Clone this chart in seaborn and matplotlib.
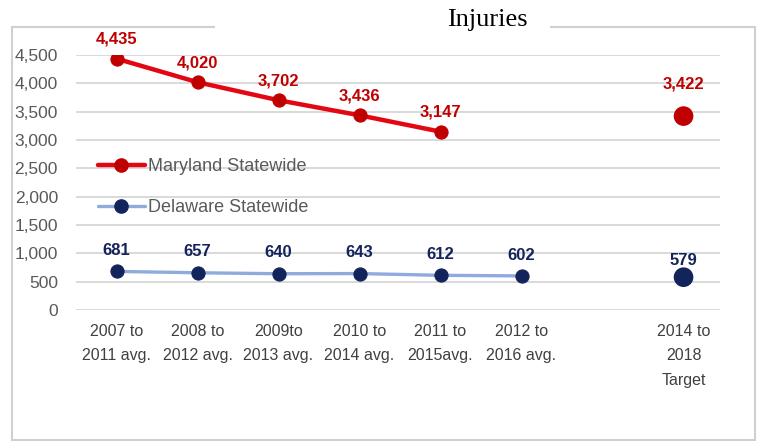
import pandas as pd
import matplotlib.pyplot as plt
import seaborn as sns
from matplotlib.lines import Line2D
from matplotlib.patches import Rectangle

# data
categories = ["2007 to\n2011 avg.", "2008 to\n2012 avg.", "2009to\n2013 avg.",
              "2010 to\n2014 avg.", "2011 to\n2015avg.", "2012 to\n2016 avg.",
              "2014 to\n2018\nTarget"]
cat_pos = [0, 1, 2, 3, 4, 5, 7]
maryland = [4435, 4020, 3702, 3436, 3147]
delaware = [681, 657, 640, 643, 612, 602]
md_target = 3422
de_target = 579

red_line = "#E30613"
red_dot = "#C00000"
blue_line = "#8FAADC"
navy = "#13235B"
gray = "#595959"

sns.set_style("white")
plt.rcParams["font.family"] = ["Liberation Sans", "DejaVu Sans"]

fig = plt.figure(figsize=(7.6, 4.41), dpi=100)
ax = fig.add_axes([76 / 760, 1 - 310 / 441, 644 / 760, 255 / 441])

df_md = pd.DataFrame({"x": cat_pos[:len(maryland)], "y": maryland})
df_de = pd.DataFrame({"x": cat_pos[:len(delaware)], "y": delaware})
df_t = pd.DataFrame({"x": [cat_pos[-1], cat_pos[-1]], "y": [md_target, de_target],
                     "s": ["md", "de"]})

sns.lineplot(data=df_md, x="x", y="y", ax=ax, color=red_line, lw=3.2, marker="o",
             markersize=9.5, markerfacecolor=red_dot, markeredgecolor=red_dot, zorder=3)
sns.lineplot(data=df_de, x="x", y="y", ax=ax, color=blue_line, lw=2.4, marker="o",
             markersize=9.5, markerfacecolor=navy, markeredgecolor=navy, zorder=3)
sns.scatterplot(data=df_t, x="x", y="y", hue="s", palette={"md": red_dot, "de": navy},
                s=200, ax=ax, legend=False, zorder=4, edgecolor="none")

# data labels
for x, v in zip(df_md["x"], maryland):
    ax.annotate(f"{v:,}", (x, v), xytext=(0, 14), textcoords="offset points",
                ha="center", va="center", color=red_dot, fontsize=12, fontweight="bold",
                annotation_clip=False)
for x, v in zip(df_de["x"], delaware):
    ax.annotate(f"{v:,}", (x, v), xytext=(0, 15), textcoords="offset points",
                ha="center", va="center", color=navy, fontsize=12, fontweight="bold")
ax.annotate(f"{md_target:,}", (cat_pos[-1], md_target), xytext=(0, 23),
            textcoords="offset points", ha="center", va="center", color=red_dot,
            fontsize=12, fontweight="bold")
ax.annotate(f"{de_target:,}", (cat_pos[-1], de_target), xytext=(0, 12),
            textcoords="offset points", ha="center", va="center", color=navy,
            fontsize=12, fontweight="bold")

ax.set_xlim(-0.5, 7.45)
ax.set_ylim(0, 4500)
ax.set_yticks(range(0, 4501, 500))
ax.set_yticklabels([f"{t:,}" for t in range(0, 4501, 500)], color=gray, fontsize=12.5)
ax.set_xticks(cat_pos)
ax.set_xticklabels(categories, color="#404040", fontsize=11.5, linespacing=1.8, va="top")
ax.tick_params(axis="x", length=0, pad=10)
ax.tick_params(axis="y", length=0, pad=13)
ax.set_xlabel("")
ax.set_ylabel("")
ax.grid(axis="y", color="#D9D9D9", lw=1.4)
ax.set_axisbelow(True)
for sp in ax.spines.values():
    sp.set_visible(False)

handles = [
    Line2D([], [], color=red_line, lw=3.2, marker="o", markersize=9.5,
           markerfacecolor=red_dot, markeredgecolor=red_dot),
    Line2D([], [], color=blue_line, lw=2.4, marker="o", markersize=9.5,
           markerfacecolor=navy, markeredgecolor=navy),
]
leg = ax.legend(handles, ["Maryland Statewide", "Delaware Statewide"], loc="upper left",
                bbox_to_anchor=(0.02, 0.63), frameon=False, fontsize=13,
                handlelength=2.6, handletextpad=0.2, labelspacing=1.3, borderpad=0)
for t in leg.get_texts():
    t.set_color(gray)

# outer frame with gap for the title
fig.patches.append(Rectangle((12 / 760, 1 / 441), 743 / 760, 413 / 441,
                             transform=fig.transFigure, fill=False,
                             edgecolor="#D0D0D0", lw=1.5))
fig.patches.append(Rectangle((215 / 760, 405 / 441), 335 / 760, 20 / 441,
                             transform=fig.transFigure, facecolor="white",
                             edgecolor="none"))
fig.text(487 / 760, 1 - 20 / 441, "Injuries", ha="center", va="center",
         fontsize=19, family="Liberation Serif", color="black")

fig.savefig("out.png", dpi=100)
